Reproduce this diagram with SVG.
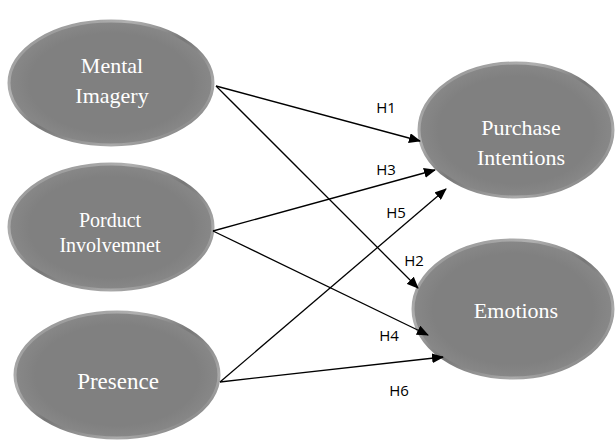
<svg xmlns="http://www.w3.org/2000/svg" width="616" height="448" viewBox="0 0 616 448">
<defs>
<linearGradient id="rim" x1="0" y1="0" x2="1" y2="1">
<stop offset="0" stop-color="#8a8a8a"/>
<stop offset="0.3" stop-color="#b0b0b0"/>
<stop offset="0.5" stop-color="#777"/>
<stop offset="0.75" stop-color="#a9a9a9"/>
<stop offset="1" stop-color="#6a6a6a"/>
</linearGradient>
<radialGradient id="body" cx="0.5" cy="0.5" r="0.5">
<stop offset="0.8" stop-color="#808080"/>
<stop offset="1" stop-color="#888"/>
</radialGradient>
<marker id="arr" viewBox="0 0 12 10" refX="11" refY="5" markerWidth="12" markerHeight="10" markerUnits="userSpaceOnUse" orient="auto">
<path d="M0,0 L12,5 L0,10 Z" fill="#000"/>
</marker>
</defs>
<style>
.node ellipse{fill:url(#body);stroke:url(#rim);stroke-width:3}
.node text{font-family:"Liberation Serif","Times New Roman",serif;fill:#fff;text-anchor:middle}
.conn line{stroke:#000;stroke-width:1.3;marker-end:url(#arr)}
.lbl{font-family:"Open Sans","Liberation Sans",sans-serif;font-size:15px;fill:#000;text-anchor:middle}
</style>
<rect width="616" height="448" fill="#fff"/>
<g id="mental-imagery" class="node">
<ellipse cx="111" cy="83" rx="102" ry="62"/>
<text x="112" y="73" font-size="22">Mental</text>
<text x="112" y="103" font-size="22">Imagery</text>
</g>
<g id="product-involvement" class="node">
<ellipse cx="111" cy="227" rx="102" ry="63"/>
<text x="110" y="227" font-size="20">Porduct</text>
<text x="110" y="252" font-size="20">Involvemnet</text>
</g>
<g id="presence" class="node">
<ellipse cx="117" cy="375" rx="102" ry="63"/>
<text x="118" y="389" font-size="23">Presence</text>
</g>
<g id="purchase-intentions" class="node">
<ellipse cx="516" cy="130" rx="97" ry="67"/>
<text x="521" y="135" font-size="22">Purchase</text>
<text x="521" y="165" font-size="22">Intentions</text>
</g>
<g id="emotions" class="node">
<ellipse cx="513" cy="309" rx="100" ry="69"/>
<text x="516" y="318" font-size="22">Emotions</text>
</g>
<g id="connectors" class="conn">
<line x1="216" y1="86" x2="420" y2="141"/>
<line x1="216" y1="86" x2="418" y2="288"/>
<line x1="213" y1="231" x2="435" y2="170"/>
<line x1="213" y1="231" x2="428" y2="335"/>
<line x1="220" y1="382" x2="446" y2="189"/>
<line x1="220" y1="382" x2="443" y2="357"/>
</g>
<g id="labels">
<text class="lbl" x="386" y="113">H1</text>
<text class="lbl" x="386" y="175">H3</text>
<text class="lbl" x="396" y="218">H5</text>
<text class="lbl" x="414" y="266">H2</text>
<text class="lbl" x="389" y="341">H4</text>
<text class="lbl" x="399" y="396">H6</text>
</g>
</svg>
